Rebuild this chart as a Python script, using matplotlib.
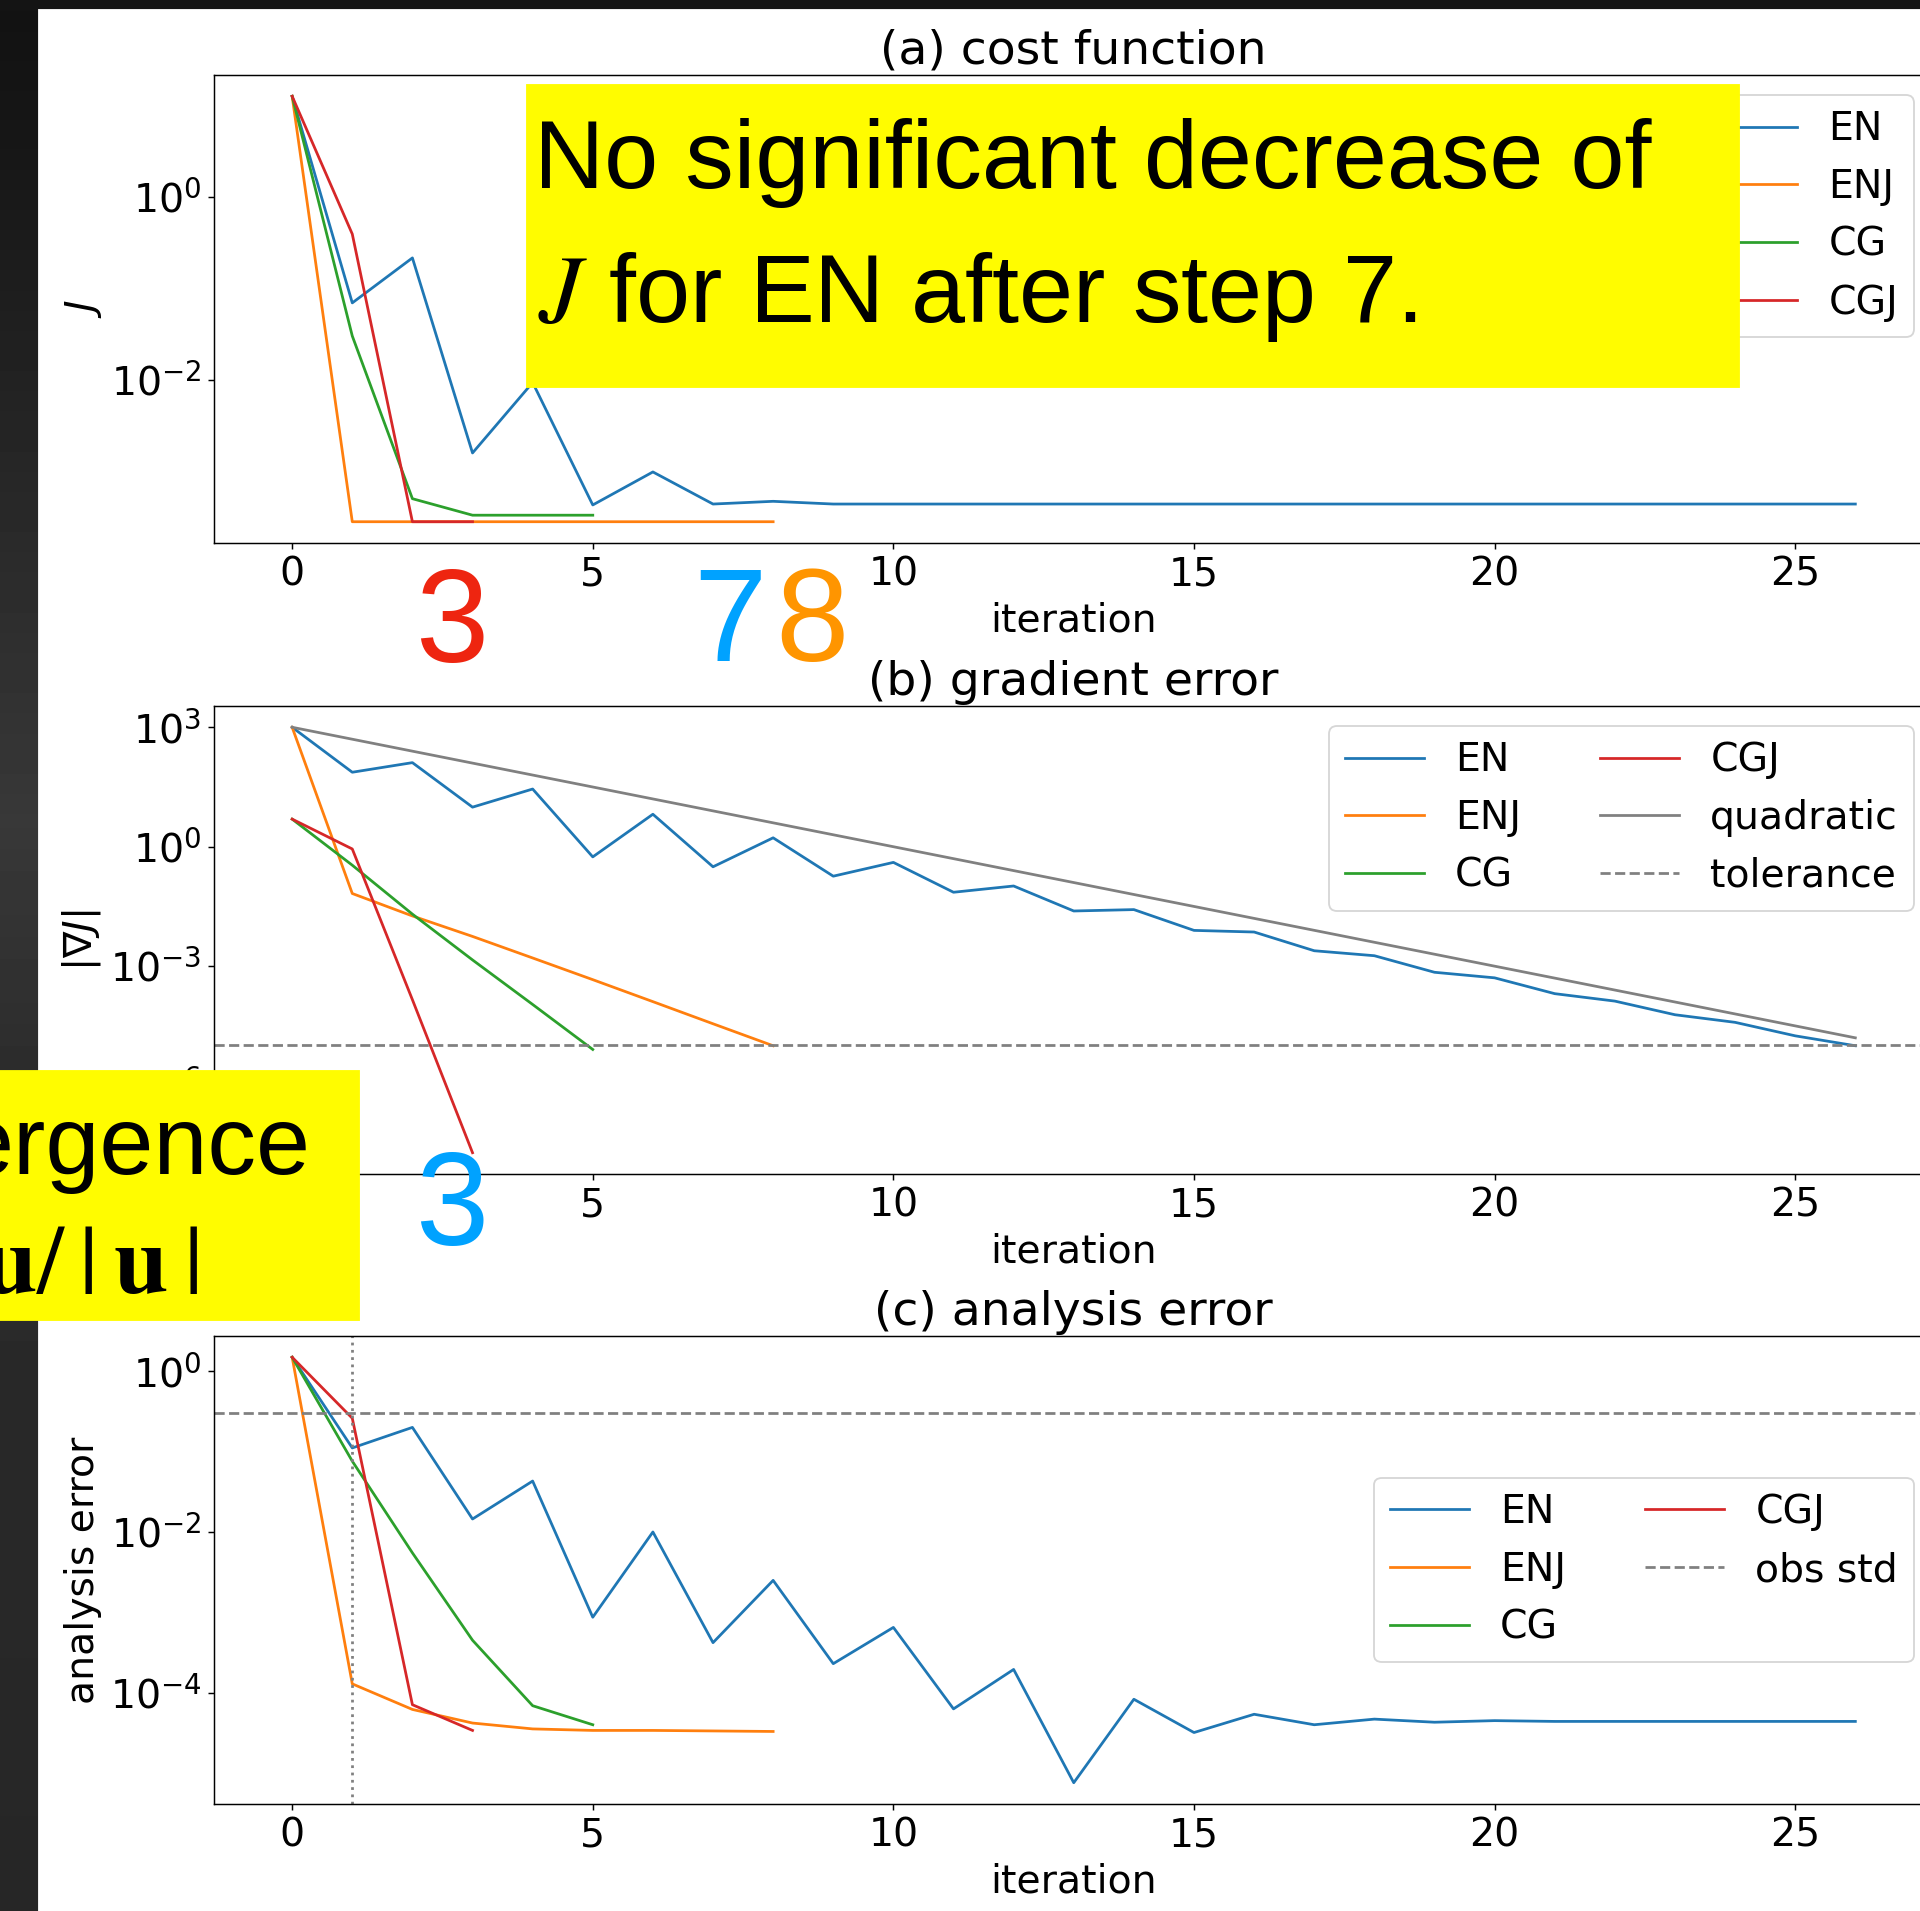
import numpy as np
import matplotlib
matplotlib.use("Agg")
import matplotlib.pyplot as plt
from matplotlib.patches import Rectangle
from matplotlib.ticker import NullLocator

# (a) cost function J per iteration
en_cost = [12.5, 0.069, 0.214, 1.58e-3, 9.3e-3, 4.27e-4, 9.8e-4, 4.37e-4, 4.68e-4,
           4.37e-4, 4.37e-4, 4.37e-4, 4.37e-4, 4.37e-4, 4.37e-4, 4.37e-4, 4.37e-4, 4.37e-4,
           4.37e-4, 4.37e-4, 4.37e-4, 4.37e-4, 4.37e-4, 4.37e-4, 4.37e-4, 4.37e-4, 4.37e-4]
enj_cost = [12.5, 2.8e-4, 2.8e-4, 2.8e-4, 2.8e-4, 2.8e-4, 2.8e-4, 2.8e-4, 2.8e-4]
cg_cost = [12.5, 0.030, 5.0e-4, 3.3e-4, 3.3e-4, 3.3e-4]
cgj_cost = [12.5, 0.39, 2.8e-4, 2.8e-4]

# (b) gradient norm |grad J|
en_grad = [1000, 74, 129, 9.8, 28, 0.55, 6.5, 0.31, 1.66, 0.18, 0.40, 0.071, 0.102, 0.024,
           0.026, 7.8e-3, 7.1e-3, 2.4e-3, 1.8e-3, 6.9e-4, 5.0e-4, 2.0e-4, 1.3e-4, 5.9e-5,
           3.8e-5, 1.74e-5, 9.8e-6]
enj_grad = [1000, 0.066, 0.018, 5.5e-3, 1.58e-3, 4.5e-4, 1.26e-4, 3.5e-5, 9.8e-6]
cg_grad = [4.9, 0.34, 0.020, 1.41e-3, 1.07e-4, 7.9e-6]
cgj_grad = [4.9, 0.87, 1.41e-4, 2.0e-8]
quad_iter = [0, 26]
quad_grad = [1000, 1.55e-5]
tolerance = 1e-5

# (c) analysis error
en_err = [1.49, 0.111, 0.20, 0.0145, 0.043, 8.7e-4, 0.010, 4.2e-4, 2.5e-3, 2.3e-4, 6.5e-4,
          6.3e-5, 1.95e-4, 7.6e-6, 8.3e-5, 3.2e-5, 5.4e-5, 4.0e-5, 4.7e-5, 4.3e-5, 4.5e-5,
          4.4e-5, 4.4e-5, 4.4e-5, 4.4e-5, 4.4e-5, 4.4e-5]
enj_err = [1.49, 1.29e-4, 6.2e-5, 4.2e-5, 3.55e-5, 3.4e-5, 3.4e-5, 3.35e-5, 3.3e-5]
cg_err = [1.49, 0.076, 5.5e-3, 4.5e-4, 6.9e-5, 4.0e-5]
cgj_err = [1.49, 0.26, 7.1e-5, 3.4e-5]
obs_std = 0.3
first_step = 1

methods = ['EN', 'ENJ', 'CG', 'CGJ']
colors = ['C0', 'C1', 'C2', 'C3']

plt.rcParams['font.size'] = 21.5

W, H, DPI = 1920, 1911, 132
fig = plt.figure(figsize=(W / DPI, H / DPI), dpi=DPI)

# dark slide backdrop with white page
bg = fig.add_axes([0, 0, 1, 1], zorder=-10)
shade = np.interp(np.arange(H), [0, 150, 820, 1100, H], [0.07, 0.09, 0.22, 0.17, 0.15])
bg.imshow(np.tile(shade[:, None], (1, 2)), cmap='gray', vmin=0, vmax=1,
          extent=[0, 39, H, 0], aspect='auto')
bg.add_patch(Rectangle((0, 0), W, 10, color='#141414'))
bg.add_patch(Rectangle((39, 10), W - 39, H - 10, color='white'))
bg.set_xlim(0, W)
bg.set_ylim(H, 0)
bg.axis('off')


def panel(top, title):
    ax = fig.add_axes([214 / W, (H - top - 468) / H, 1719.5 / W, 468 / H])
    ax.set_yscale('log')
    ax.set_title(title)
    ax.set_xlabel('iteration')
    return ax


def finish(ax, yticks):
    ax.set_xlim(-1.3, 27.3)
    ax.set_xticks(range(0, 26, 5))
    ax.set_yticks(yticks)
    ax.yaxis.set_minor_locator(NullLocator())


# (a)
ax1 = panel(75, '(a) cost function')
for name, c, v in zip(methods, colors, [en_cost, enj_cost, cg_cost, cgj_cost]):
    ax1.plot(np.arange(len(v)), v, color=c, label=name)
ax1.set_ylabel('$J$')
ax1.legend(loc='upper right')
finish(ax1, [1e0, 1e-2])

# (b)
ax2 = panel(706, '(b) gradient error')
for name, c, v in zip(methods, colors, [en_grad, enj_grad, cg_grad, cgj_grad]):
    ax2.plot(np.arange(len(v)), v, color=c, label=name)
ax2.plot(quad_iter, quad_grad, color='gray', label='quadratic')
ax2.axhline(tolerance, color='gray', ls='--', label='tolerance')
ax2.set_ylabel(r'$|\nabla J|$')
ax2.legend(loc='upper right', ncol=2)
finish(ax2, [1e3, 1e0, 1e-3, 1e-6])

# (c)
ax3 = panel(1336, '(c) analysis error')
for name, c, v in zip(methods, colors, [en_err, enj_err, cg_err, cgj_err]):
    ax3.plot(np.arange(len(v)), v, color=c, label=name)
ax3.axhline(obs_std, color='gray', ls='--', label='obs std')
ax3.axvline(first_step, color='gray', ls=':')
ax3.set_ylabel('analysis error')
ax3.legend(loc='center right', ncol=2)
finish(ax3, [1e0, 1e-2, 1e-4])

# slide annotations on top
ov = fig.add_axes([0, 0, 1, 1], zorder=10)
ov.set_xlim(0, W)
ov.set_ylim(H, 0)
ov.axis('off')

yellow = '#FFFC00'
sans = 'Liberation Sans'
ov.add_patch(Rectangle((527, 85), 1212, 302, color=yellow))
ov.text(534, 188, 'No significant decrease of', fontsize=53, family=sans, va='baseline')
ov.text(538, 322, r'$J$ for EN after step 7.', fontsize=53, family=sans,
        math_fontfamily='stix', va='baseline')

ov.add_patch(Rectangle((0, 1071), 359, 249, color=yellow))
ov.text(311, 1174, 'ergence', fontsize=53, family=sans, ha='right', va='baseline')
ov.text(198, 1293, r'$\mathbf{u}/\:|\:\mathbf{u}\:|$', fontsize=53, family=sans,
        math_fontfamily='stix', ha='right', va='baseline')

for x, y, s, c in [(452, 662, '3', '#EE2510'), (730, 661, '7', '#00A2FF'),
                   (812, 661, '8', '#FF9500'), (452, 1245, '3', '#00A2FF')]:
    ov.text(x, y, s, fontsize=72, family=sans, color=c, ha='center', va='baseline')

fig.savefig('out.png', dpi=DPI)
